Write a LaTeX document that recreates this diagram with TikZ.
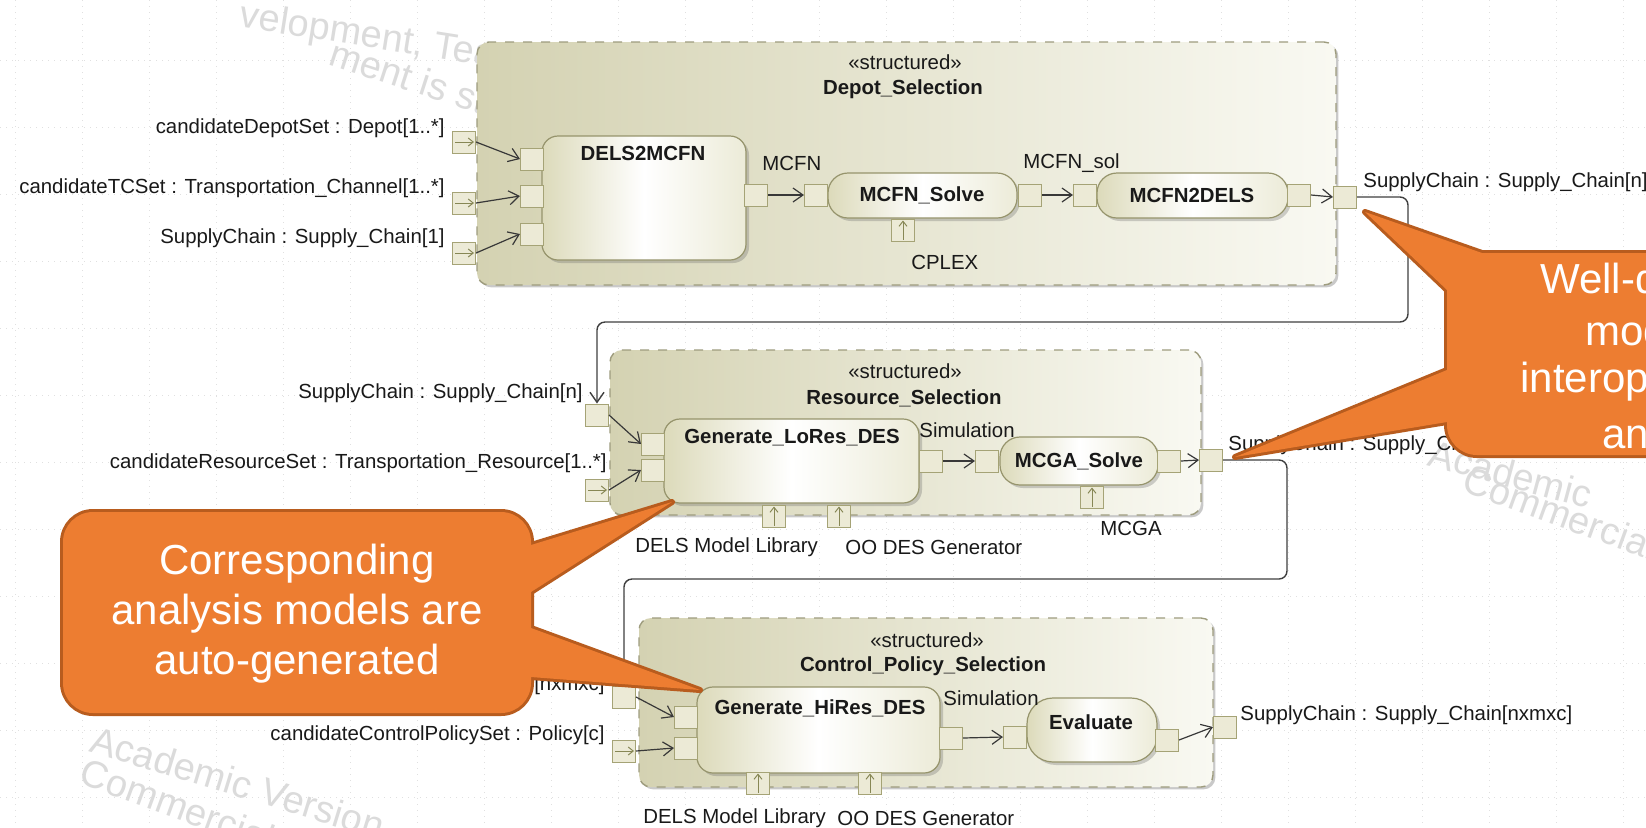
\documentclass[tikz,border=0pt]{standalone}
\usepackage{fontspec}
\setmainfont{Liberation Sans}
\usetikzlibrary{arrows.meta,shadows,fit}
\definecolor{sboxL}{RGB}{212,210,178}
\definecolor{sboxR}{RGB}{249,249,242}
\definecolor{sboxline}{RGB}{158,156,126}
\definecolor{partL}{RGB}{220,218,186}
\definecolor{partR}{RGB}{236,235,216}
\definecolor{partline}{RGB}{150,148,108}
\definecolor{portfill}{RGB}{236,234,214}
\definecolor{portline}{RGB}{165,163,118}
\definecolor{pinc}{RGB}{135,135,85}
\definecolor{calloutF}{RGB}{237,125,49}
\definecolor{calloutB}{RGB}{184,92,30}
\definecolor{txt}{RGB}{25,25,25}
\tikzset{
  sbox/.style={draw=sboxline, dash pattern=on 4.5pt off 4.5pt, line width=0.7pt, rounded corners=6pt,
    left color=sboxL, right color=sboxR, inner sep=0pt,
    drop shadow={shadow xshift=1.2pt, shadow yshift=-1.2pt, opacity=0.35, fill=black!60}},
  part/.style={draw=partline, line width=0.6pt, rounded corners=8pt,
    left color=partL, right color=partR, middle color=white, inner sep=0pt,
    drop shadow={shadow xshift=1.5pt, shadow yshift=-1.5pt, opacity=0.3, fill=black!60}},
  port/.style={draw=portline, fill=portfill, line width=0.5pt, minimum width=11.5pt, minimum height=11pt, inner sep=0pt},
  conn/.style={draw=black!78, line width=0.6pt, -{Straight Barb[length=5pt,width=7pt]}},
  bigconn/.style={draw=black!75, line width=0.7pt, rounded corners=4pt, -{Straight Barb[length=5pt,width=7pt]}},
  pin/.style={draw=pinc, line width=0.5pt, -{Straight Barb[length=2.5pt,width=4pt]}},
  lbl/.style={font=\fontsize{10.2}{12}\selectfont, inner sep=0pt, text=txt},
  blbl/.style={font=\fontsize{10.2}{12}\selectfont\bfseries, inner sep=0pt, text=txt},
  gridl/.style={draw=black!12, line width=0.4pt, dash pattern=on 0.5pt off 2.5pt},
  wm/.style={text=black!14, font=\fontsize{19}{22}\selectfont, inner sep=0pt, anchor=west},
  cstroke/.style={draw=calloutB, line width=3pt, line join=round},
  calltext/.style={text=white, font=\fontsize{21}{25}\selectfont, inner sep=0pt},
}
\begin{document}
\begin{tikzpicture}[x=0.5pt,y=-0.5pt]
\useasboundingbox (0,0) rectangle (1646,827);
\clip (0,0) rectangle (1646,827);
\fill[white] (0,0) rectangle (1646,827);
% grid
\foreach \gx in {15,82,...,1646} \draw[gridl] (\gx,0) -- (\gx,827);
\foreach \gy in {60,127,...,827} \draw[gridl] (0,\gy) -- (1646,\gy);
% watermarks
\node[wm, rotate=-9] (wm1) at (240,17) {velopment, Teaching};
\node[wm, rotate=-18] (wm2) at (330,55) {ment is strictly};
\node[wm, rotate=-17] (wm3) at (92,738) {Academic Version};
\node[wm, rotate=-20] (wm4) at (82,770) {Commercial Version};
\node[wm, rotate=-15] (wm5) at (1430,452) {Academic};
\node[wm, rotate=-20] (wm6) at (1465,478) {Commercial};

% ================= Depot_Selection
\node[sbox, fit={(477,42) (1336,285)}] (depot) {};
\node[lbl] (depotSt) at (905,62) {«structured»};
\node[blbl] (depotT) at (903,89) {Depot\_Selection};

\node[part, fit={(542,136) (746,260)}] (dels) {};
\node[blbl] (delsT) at (643,153) {DELS2MCFN};
\node[part, rounded corners=10pt, fit={(828,173) (1017,218)}] (solve) {};
\node[blbl] (solveT) at (922,195) {MCFN\_Solve};
\node[part, rounded corners=10pt, fit={(1097,173) (1288,218)}] (mtod) {};
\node[blbl] (mtodT) at (1192,195) {MCFN2DELS};

\node[port] (pDa) at (464,142) {};
\node[port] (pDb) at (464,203) {};
\node[port] (pDc) at (464,253) {};
\node[port] (iDa) at (532,159) {};
\node[port] (iDb) at (532,196) {};
\node[port] (iDc) at (532,234) {};
\node[port] (oDels) at (756,195) {};
\node[port] (iSolve) at (816,195) {};
\node[port] (bSolve) at (903,230) {};
\node[port] (oSolve) at (1030,195) {};
\node[port] (iMtod) at (1085,195) {};
\node[port] (oMtod) at (1299,195) {};
\node[port] (pDr) at (1345,197) {};

\foreach \p in {pDa,pDb,pDc} \draw[pin] ([xshift=1.5pt]\p.west) -- ([xshift=-1pt]\p.east);
\draw[pin] ([yshift=1pt]bSolve.south) -- ([yshift=-1pt]bSolve.north);

\draw[conn] (pDa.east) -- (iDa.west);
\draw[conn] (pDb.east) -- (iDb.west);
\draw[conn] (pDc.east) -- (iDc.west);
\draw[conn] (oDels.east) -- (iSolve.west);
\draw[conn] (oSolve.east) -- (iMtod.west);
\draw[conn] (oMtod.east) -- (pDr.west);

\node[lbl, anchor=east] (tDa) at (445,128) {candidateDepotSet : Depot[1..*]};
\node[lbl, anchor=east] (tDb) at (445,188) {candidateTCSet : Transportation\_Channel[1..*]};
\node[lbl, anchor=east] (tDc) at (445,238) {SupplyChain : Supply\_Chain[1]};
\node[lbl, anchor=west] (tMCFN) at (762,163) {MCFN};
\node[lbl, anchor=west] (tSol) at (1023,163) {MCFN\_sol};
\node[lbl, anchor=west] (tCplex) at (911,262) {CPLEX};
\node[lbl, anchor=west] (tDr) at (1363,182) {SupplyChain : Supply\_Chain[n]};

% ================= Resource_Selection
\node[sbox, fit={(610,350) (1201,515)}] (res) {};
\node[lbl] (resSt) at (905,371) {«structured»};
\node[blbl] (resT) at (904,398) {Resource\_Selection};

\node[part, fit={(664,419) (919,503)}] (genlo) {};
\node[blbl] (genloT) at (792,438) {Generate\_LoRes\_DES};
\node[part, rounded corners=10pt, fit={(1000,437) (1158,485)}] (mcga) {};
\node[blbl] (mcgaT) at (1079,461) {MCGA\_Solve};

\node[port] (pRa) at (597,415) {};
\node[port] (pRb) at (597,490) {};
\node[port] (iRa) at (653,444) {};
\node[port] (iRb) at (653,470) {};
\node[port] (oGen) at (931,461) {};
\node[port] (iMcga) at (987,461) {};
\node[port] (oMcga) at (1169,461) {};
\node[port] (pRr) at (1211,460) {};
\node[port] (bRa) at (774,516) {};
\node[port] (bRb) at (839,516) {};
\node[port] (bMcga) at (1092,497) {};

\draw[pin] ([xshift=1.5pt]pRb.west) -- ([xshift=-1pt]pRb.east);
\foreach \p in {bRa,bRb,bMcga} \draw[pin] ([yshift=1pt]\p.south) -- ([yshift=-1pt]\p.north);

\draw[conn] (pRa.east) -- (iRa.west);
\draw[conn] (pRb.east) -- (iRb.west);
\draw[conn] (oGen.east) -- (iMcga.west);
\draw[conn] (oMcga.east) -- (pRr.west);

\node[lbl, anchor=east] (tRa) at (583,393) {SupplyChain : Supply\_Chain[n]};
\node[lbl, anchor=east] (tRb) at (607,463) {candidateResourceSet : Transportation\_Resource[1..*]};
\node[lbl, anchor=west] (tSim1) at (919,430) {Simulation};
\node[lbl, anchor=west] (tMcga) at (1100,528) {MCGA};
\node[lbl, anchor=west] (tDml1) at (635,547) {DELS Model Library};
\node[lbl, anchor=west] (tOo1) at (845,547) {OO DES Generator};
\node[lbl, anchor=west] (tRr) at (1228,445) {SupplyChain : Supply\_Chain[n]};

% ================= Control_Policy_Selection
\node[sbox, fit={(639,618) (1213,787)}] (ctl) {};
\node[lbl] (ctlSt) at (927,640) {«structured»};
\node[blbl] (ctlT) at (923,666) {Control\_Policy\_Selection};

\node[part, fit={(697,687) (940,773)}] (genhi) {};
\node[blbl] (genhiT) at (820,708) {Generate\_HiRes\_DES};
\node[part, rounded corners=13pt, fit={(1027,698) (1157,762)}] (eval) {};
\node[blbl] (evalT) at (1091,722) {Evaluate};

\node[port] (pCa) at (624,697) {};
\node[port] (pCb) at (624,751) {};
\node[port] (iCa) at (686,717) {};
\node[port] (iCb) at (686,748) {};
\node[port] (oGenhi) at (951,738) {};
\node[port] (iEval) at (1015,737) {};
\node[port] (oEval) at (1167,740) {};
\node[port] (pCr) at (1225,727) {};
\node[port] (bCa) at (758,783) {};
\node[port] (bCb) at (870,783) {};

\draw[pin] ([xshift=1.5pt]pCb.west) -- ([xshift=-1pt]pCb.east);
\foreach \p in {bCa,bCb} \draw[pin] ([yshift=1pt]\p.south) -- ([yshift=-1pt]\p.north);

\draw[conn] (pCa.east) -- (iCa.west);
\draw[conn] (pCb.east) -- (iCb.west);
\draw[conn] (oGenhi.east) -- (iEval.west);
\draw[conn] (oEval.east) -- (pCr.west);

\node[lbl, anchor=east] (tCa) at (605,685) {SupplyChain : Supply\_Chain[nxmxc]};
\node[lbl, anchor=east] (tCb) at (605,735) {candidateControlPolicySet : Policy[c]};
\node[lbl, anchor=west] (tSim2) at (943,698) {Simulation};
\node[lbl, anchor=west] (tDml2) at (643,818) {DELS Model Library};
\node[lbl, anchor=west] (tOo2) at (837,818) {OO DES Generator};
\node[lbl, anchor=west] (tCr) at (1240,715) {SupplyChain : Supply\_Chain[nxmxc]};

% ================= block-to-block connectors
\coordinate (k1) at (1408,322);
\coordinate (k2) at (1287,579);
\draw[bigconn] (pDr.east) -| (k1) -| (pRa.north);
\draw[bigconn] (pRr.east) -| (k2) -| (pCa.north);

% ================= callouts
\draw[cstroke] [rounded corners=15pt] (63,512) rectangle (531,713);
\draw[cstroke] (531,545) -- (672,502) -- (531,592) -- cycle;
\draw[cstroke] (531,628) -- (700,690) -- (531,677) -- cycle;
\fill[calloutF] [rounded corners=15pt] (63,512) rectangle (531,713);
\fill[calloutF] (531,545) -- (672,502) -- (531,592) -- cycle;
\fill[calloutF] (531,628) -- (700,690) -- (531,677) -- cycle;
\node[calltext, align=center] (c1) at (297,614) {Corresponding\\analysis models are\\auto-generated};

\draw[cstroke] [rounded corners=15pt] (1447,253) rectangle (1800,455);
\draw[cstroke] (1447,290) -- (1365,212) -- (1482,253) -- cycle;
\draw[cstroke] (1447,370) -- (1235,457) -- (1447,422) -- cycle;
\fill[calloutF] [rounded corners=15pt] (1447,253) rectangle (1800,455);
\fill[calloutF] (1447,290) -- (1365,212) -- (1482,253) -- cycle;
\fill[calloutF] (1447,370) -- (1235,457) -- (1447,422) -- cycle;
\node[calltext, anchor=west] (c2a) at (1540,278) {Well-defined};
\node[calltext, anchor=west] (c2b) at (1585,330) {models};
\node[calltext, anchor=west] (c2c) at (1520,382) {interoperability};
\node[calltext, anchor=west] (c2d) at (1602,433) {and};
\end{tikzpicture}
\end{document}
